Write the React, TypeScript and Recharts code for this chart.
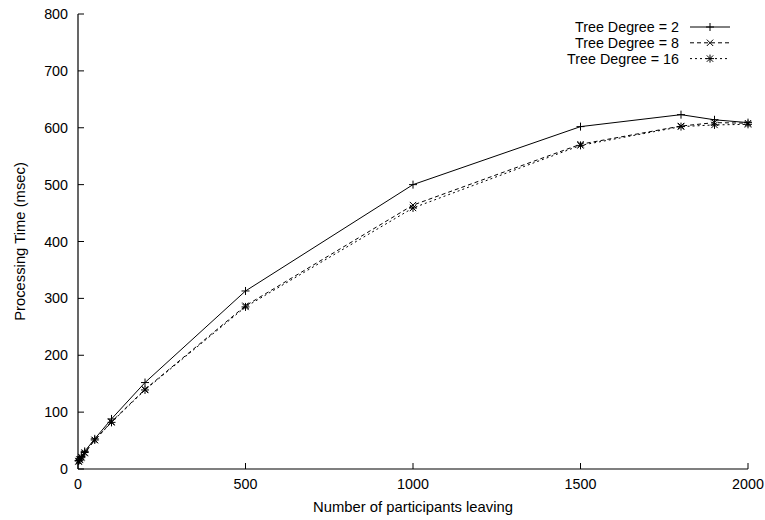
import React from 'react';
import { LineChart, Line, XAxis, YAxis, Legend } from 'recharts';

const xs = [2, 5, 10, 20, 50, 100, 200, 500, 1000, 1500, 1800, 1900, 2000];
const deg2 = [15, 18, 22, 31, 53, 88, 152, 313, 500, 602, 623, 614, 609];
const deg8 = [13, 17, 21, 28, 51, 83, 140, 287, 464, 571, 603, 609, 608];
const deg16 = [14, 16, 20, 29, 51, 82, 139, 285, 459, 569, 602, 605, 606];
const seriesNames = ['Tree Degree = 2', 'Tree Degree = 8', 'Tree Degree = 16'];
const xTicks = [0, 500, 1000, 1500, 2000];
const yTicks = [0, 100, 200, 300, 400, 500, 600, 700, 800];

const data = xs.map((x, i) => ({ x, d2: deg2[i], d8: deg8[i], d16: deg16[i] }));

const FONT = '"Liberation Sans", Arial, Helvetica, sans-serif';

const plusPath = (cx: number, cy: number, r = 4) =>
  `M${cx - r},${cy}H${cx + r}M${cx},${cy - r}V${cy + r}`;
const crossPath = (cx: number, cy: number, r = 3.2) =>
  `M${cx - r},${cy - r}L${cx + r},${cy + r}M${cx - r},${cy + r}L${cx + r},${cy - r}`;

const PlusDot = (p: any) =>
  p.cx == null ? <g key={p.index} /> : <path key={p.index} d={plusPath(p.cx, p.cy)} stroke="#000" strokeWidth={1} fill="none" />;
const CrossDot = (p: any) =>
  p.cx == null ? <g key={p.index} /> : <path key={p.index} d={crossPath(p.cx, p.cy)} stroke="#000" strokeWidth={1} fill="none" />;
const StarDot = (p: any) =>
  p.cx == null ? <g key={p.index} /> : (
    <path key={p.index} d={plusPath(p.cx, p.cy) + crossPath(p.cx, p.cy)} stroke="#000" strokeWidth={1} fill="none" />
  );

const dashes = ['', '4 3', '2 3'];
const markers = [plusPath, crossPath, (cx: number, cy: number) => plusPath(cx, cy) + crossPath(cx, cy)];

const LegendContent = () => (
  <svg width={290} height={60} style={{ display: 'block' }}>
    {seriesNames.map((n, i) => {
      const y = 15 + i * 15.8;
      return (
        <g key={n}>
          <text x={209} y={y} textAnchor="end" dominantBaseline="central" fontFamily={FONT} fontSize={14.3} fill="#000">
            {n}
          </text>
          <line x1={220} x2={260} y1={y} y2={y} stroke="#000" strokeWidth={1} strokeDasharray={dashes[i] || undefined} />
          <path d={markers[i](240, y)} stroke="#000" strokeWidth={1} fill="none" />
        </g>
      );
    })}
  </svg>
);

const Empty = () => <g />;

export default function App() {
  const tickStyle = { fontFamily: FONT, fontSize: 14.3, fill: '#000' };
  return (
    <div style={{ position: 'absolute', left: 0, top: 0, width: 765, height: 520, background: '#fff' }}>
      <LineChart width={765} height={520} data={data} margin={{ top: 14, right: 17, bottom: 0, left: 0 }}>
        <XAxis
          dataKey="x"
          type="number"
          domain={[0, 2000]}
          ticks={xTicks}
          height={51}
          tickSize={-6}
          tickMargin={16}
          axisLine={{ stroke: '#000', strokeWidth: 1.2 }}
          tickLine={{ stroke: '#000' }}
          tick={tickStyle}
          label={{
            content: (props: any) => {
              const vb = props.viewBox || {};
              return (
                <text x={vb.x + vb.width / 2} y={507} textAnchor="middle" dominantBaseline="central" fontFamily={FONT} fontSize={14.8} fill="#000">
                  Number of participants leaving
                </text>
              );
            },
          }}
        />
        <XAxis
          xAxisId="top"
          orientation="top"
          dataKey="x"
          type="number"
          domain={[0, 2000]}
          ticks={xTicks}
          height={0}
          tickSize={-6}
          axisLine={{ stroke: '#000', strokeWidth: 1.2 }}
          tickLine={{ stroke: '#000' }}
          tick={<Empty />}
        />
        <YAxis
          type="number"
          domain={[0, 800]}
          ticks={yTicks}
          width={78}
          tickSize={-6}
          tickMargin={16}
          axisLine={{ stroke: '#000', strokeWidth: 1.2 }}
          tickLine={{ stroke: '#000' }}
          tick={tickStyle}
          label={{
            content: (props: any) => {
              const vb = props.viewBox || {};
              const cy = vb.y + vb.height / 2;
              return (
                <text x={20} y={cy} transform={`rotate(-90 20 ${cy})`} textAnchor="middle" dominantBaseline="central" fontFamily={FONT} fontSize={14.8} fill="#000">
                  Processing Time (msec)
                </text>
              );
            },
          }}
        />
        <YAxis
          yAxisId="right"
          orientation="right"
          type="number"
          domain={[0, 800]}
          ticks={yTicks}
          width={0}
          tickSize={-6}
          axisLine={{ stroke: '#000', strokeWidth: 1.2 }}
          tickLine={{ stroke: '#000' }}
          tick={<Empty />}
        />
        <Legend
          layout="vertical"
          align="center"
          verticalAlign="middle"
          content={<LegendContent />}
          wrapperStyle={{ left: 470, top: 12, width: 290, height: 60 }}
        />
        <Line dataKey="d2" name={seriesNames[0]} stroke="#000" strokeWidth={1} dot={PlusDot} activeDot={false} isAnimationActive={false} />
        <Line dataKey="d8" name={seriesNames[1]} stroke="#000" strokeWidth={1} strokeDasharray="4 3" dot={CrossDot} activeDot={false} isAnimationActive={false} />
        <Line dataKey="d16" name={seriesNames[2]} stroke="#000" strokeWidth={1} strokeDasharray="2 3" dot={StarDot} activeDot={false} isAnimationActive={false} />
      </LineChart>
    </div>
  );
}
